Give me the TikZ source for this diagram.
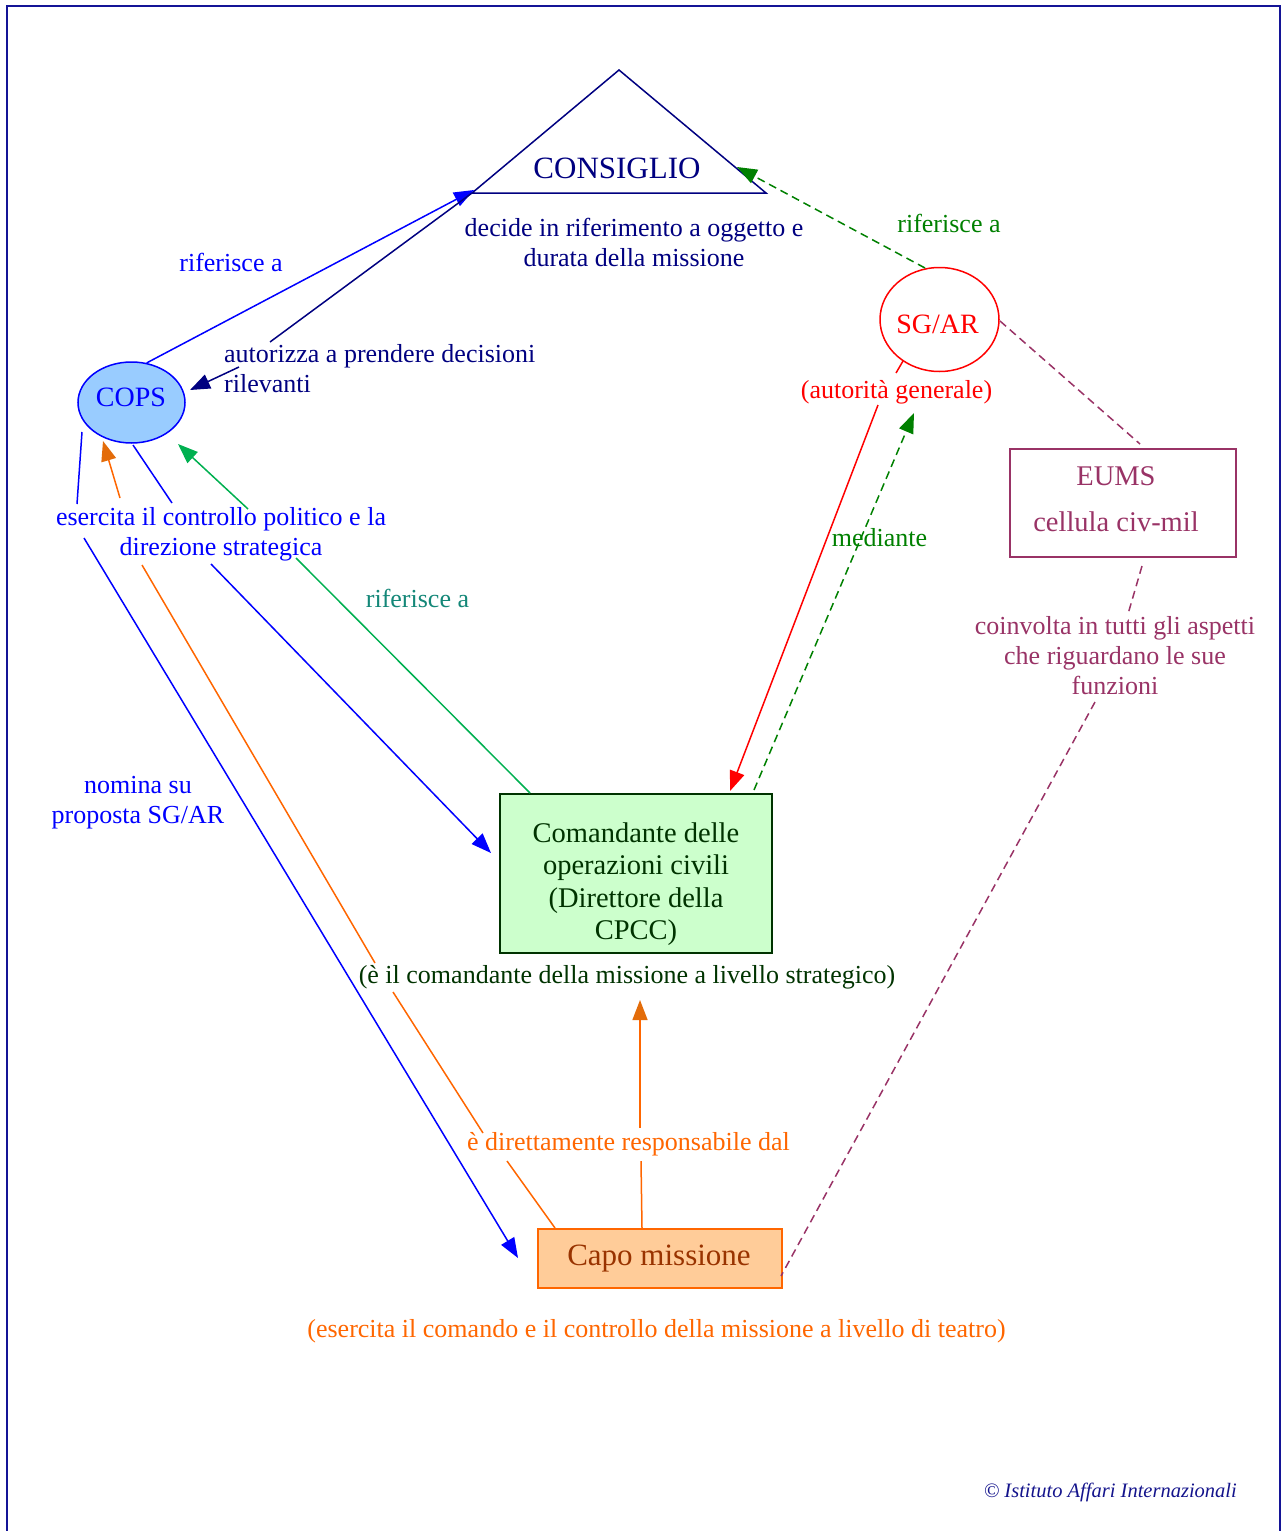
\documentclass[tikz,border=0pt]{standalone}
\usepackage{fontspec}
\setmainfont{Liberation Serif}
\usetikzlibrary{arrows.meta,shapes.geometric,calc}

\definecolor{navy}{RGB}{0,0,128}
\definecolor{pureblue}{RGB}{0,0,255}
\definecolor{copsfill}{RGB}{153,204,255}
\definecolor{darkgreenT}{RGB}{0,128,0}
\definecolor{midgreen}{RGB}{0,176,80}
\definecolor{tealT}{RGB}{20,135,120}
\definecolor{cmdfill}{RGB}{204,255,204}
\definecolor{cmdtext}{RGB}{0,51,0}
\definecolor{orangeL}{RGB}{255,102,0}
\definecolor{orangeTip}{RGB}{227,108,10}
\definecolor{capofill}{RGB}{255,204,153}
\definecolor{capotext}{RGB}{153,51,0}
\definecolor{plum}{RGB}{153,51,102}
\definecolor{framecol}{RGB}{20,20,150}
\definecolor{copyc}{RGB}{20,20,140}

\begin{document}
\begin{tikzpicture}[x=1pt,y=-1pt,
  lbl/.style={inner sep=0pt, anchor=base, align=center, font=\fontsize{26}{30}\selectfont},
  big/.style={inner sep=0pt, anchor=base, align=center, font=\fontsize{28.5}{32.5}\selectfont},
  conn/.style={line width=1.5pt},
  tip/.style={-{Triangle[length=20pt,width=15pt]}},
  tipO/.style={-{Triangle[length=20pt,width=15pt,color=orangeTip]}},
  dashline/.style={dash pattern=on 8pt off 5pt},
  boxline/.style={line width=1.5pt, inner sep=0pt},
]
\useasboundingbox (0,0) rectangle (1286,1531);

% outer frame (open at the bottom of the page)
\draw[framecol, line width=2pt] (7,1545) -- (7,6) -- (1280,6) -- (1280,1545);

% ---------- concepts ----------
% (multi-line labels are placed by the baseline of their last line)
\coordinate (consApex) at (619,70);
\coordinate (consL) at (472,193);
\coordinate (consR) at (766,193);
\draw[navy, line width=1.5pt] (consApex) -- (consL) -- (consR) -- cycle;
\node[lbl, font=\fontsize{31}{35}\selectfont, text=navy] (consiglio) at (617,178) {CONSIGLIO};
\node[lbl, text=navy] (decide) at (634,266) {decide in riferimento a oggetto e\\durata della missione};

\node[ellipse, draw=pureblue, fill=copsfill, boxline, minimum width=107pt, minimum height=81pt] (cops) at (131.5,402.5) {};
\node[lbl, font=\fontsize{28}{32}\selectfont, text=pureblue] (copsText) at (131,406) {COPS};

\node[ellipse, draw=red, fill=white, boxline, minimum width=119pt, minimum height=104pt] (sgar) at (939.5,319.5) {};
\node[lbl, font=\fontsize{28}{32}\selectfont, text=red] (sgarText) at (937.5,333) {SG/AR};
\node[lbl, text=red] (autorita) at (896.5,398) {(autorità generale)};

\node[draw=plum, boxline, minimum width=226pt, minimum height=108pt] (eums) at (1123,503) {};
\node[big, text=plum] (eumsName) at (1116,485) {EUMS};
\node[big, text=plum] (eumsCell) at (1116,531) {cellula civ-mil};
\node[lbl, text=plum] (coinvolta) at (1115,694) {coinvolta in tutti gli aspetti\\che riguardano le sue\\funzioni};

\node[draw=cmdtext, fill=cmdfill, boxline, minimum width=272pt, minimum height=159pt] (cmd) at (636,873.5) {};
\node[big, text=cmdtext] (cmdText) at (636,939.5) {Comandante delle\\operazioni civili\\(Direttore della\\CPCC)};
\node[lbl, text=cmdtext] (strategico) at (627,983) {(è il comandante della missione a livello strategico)};

\node[draw=orangeL, fill=capofill, boxline, minimum width=244pt, minimum height=59pt] (capo) at (660,1258.5) {};
\node[lbl, font=\fontsize{31}{35}\selectfont, text=capotext] (capoText) at (659,1265) {Capo missione};
\node[lbl, text=orangeL] (teatro) at (656.5,1337) {(esercita il comando e il controllo della missione a livello di teatro)};

% ---------- linking phrases ----------
\node[lbl, text=pureblue] (riferisceCops) at (231,271) {riferisce a};
\node[lbl, text=navy, align=left, anchor=base west] (autorizza) at (224,392) {autorizza a prendere decisioni\\rilevanti};
\node[lbl, text=darkgreenT] (riferisceSg) at (949,232) {riferisce a};
\node[lbl, text=pureblue] (esercita) at (221,555) {esercita il controllo politico e la\\direzione strategica};
\node[lbl, text=tealT] (riferisceCmd) at (417.5,607) {riferisce a};
\node[lbl, text=darkgreenT] (mediante) at (879.5,546) {mediante};
\node[lbl, text=pureblue] (nomina) at (138,823) {nomina su\\proposta SG/AR};
\node[lbl, text=orangeL] (responsabile) at (628.5,1150) {è direttamente responsabile dal};

\node[inner sep=0pt, anchor=base east, text=copyc, font=\fontsize{20.5}{24}\selectfont\itshape] (copyright) at (1237,1497) {© Istituto Affari Internazionali};

% ---------- connector end points ----------
\coordinate (consIn) at (474,190);
\coordinate (consRightIn) at (737,167);
\coordinate (autTop) at (270,342);
\coordinate (autOut) at (239,367);
\coordinate (copsEast) at (190,390);
\coordinate (copsSW) at (82,432);
\coordinate (eseIn1) at (77,504);
\coordinate (copsS) at (133,445);
\coordinate (eseIn2) at (172,503);
\coordinate (eseOut1) at (84,538);
\coordinate (capoIn) at (518,1258);
\coordinate (eseOut2) at (211,564);
\coordinate (cmdIn) at (491,853);
\coordinate (capoTopL) at (555,1228);
\coordinate (respIn1) at (507,1161);
\coordinate (capoTopM) at (642,1228);
\coordinate (respIn2) at (641,1161);
\coordinate (respOut1) at (483,1133);
\coordinate (strLow) at (393,992);
\coordinate (strHigh) at (375,963);
\coordinate (eseLowO) at (142,565);
\coordinate (eseHighO) at (120,498);
\coordinate (copsSouthO) at (103,441);
\coordinate (respOut2) at (640,1128);
\coordinate (strIn) at (640,1000);
\coordinate (cmdNW) at (530,793);
\coordinate (eseLowG) at (296,558);
\coordinate (eseHighG) at (248,509);
\coordinate (copsSE) at (178,444);
\coordinate (sgarS) at (903,361);
\coordinate (autIn) at (896,373);
\coordinate (autOutR) at (878,405);
\coordinate (cmdTopR) at (730,791);
\coordinate (cmdTopR2) at (754,790);
\coordinate (autBelow) at (914,413);
\coordinate (sgarN) at (925,268);
\coordinate (sgarE) at (1000,321);
\coordinate (eumsTop) at (1140,444);
\coordinate (eumsBot) at (1142,566);
\coordinate (coinIn) at (1128,614);
\coordinate (coinOut) at (1095,702);
\coordinate (capoE) at (781,1276);

% ---------- connectors ----------
% COPS refers to the Council
\draw[conn, pureblue, tip] (cops.69) -- (consIn);
% Council authorises COPS
\draw[conn, navy] (consL) -- (autTop);
\draw[conn, navy, tip] (autOut) -- (copsEast);
% COPS exercises political control and strategic direction
\draw[conn, pureblue] (copsSW) -- (eseIn1);
\draw[conn, pureblue] (copsS) -- (eseIn2);
\draw[conn, pureblue, tip] (eseOut1) -- (capoIn);
\draw[conn, pureblue, tip] (eseOut2) -- (cmdIn);
% Head of mission is directly responsible to ...
\draw[conn, orangeL] (capoTopL) -- (respIn1);
\draw[conn, orangeL] (capoTopM) -- (respIn2);
\draw[conn, orangeL] (respOut1) -- (strLow);
\draw[conn, orangeL] (strHigh) -- (eseLowO);
\draw[conn, orangeL, tipO] (eseHighO) -- (copsSouthO);
\draw[conn, orangeL, tipO] (respOut2) -- (strIn);
% Civilian operation commander refers to COPS
\draw[conn, midgreen] (cmdNW) -- (eseLowG);
\draw[conn, midgreen, tip] (eseHighG) -- (copsSE);
% SG/AR general authority
\draw[conn, red] (sgarS) -- (autIn);
\draw[conn, red, tip] (autOutR) -- (cmdTopR);
% Commander through SG/AR
\draw[conn, darkgreenT, dashline, tip] (cmdTopR2) -- (autBelow);
% SG/AR refers to the Council
\draw[conn, darkgreenT, dashline, tip] (sgarN) -- (consRightIn);
% EUMS civ-mil cell
\draw[conn, plum, dashline] (sgarE) -- (eumsTop);
\draw[conn, plum, dashline] (eumsBot) -- (coinIn);
\draw[conn, plum, dashline] (coinOut) -- (capoE);
\end{tikzpicture}
\end{document}
